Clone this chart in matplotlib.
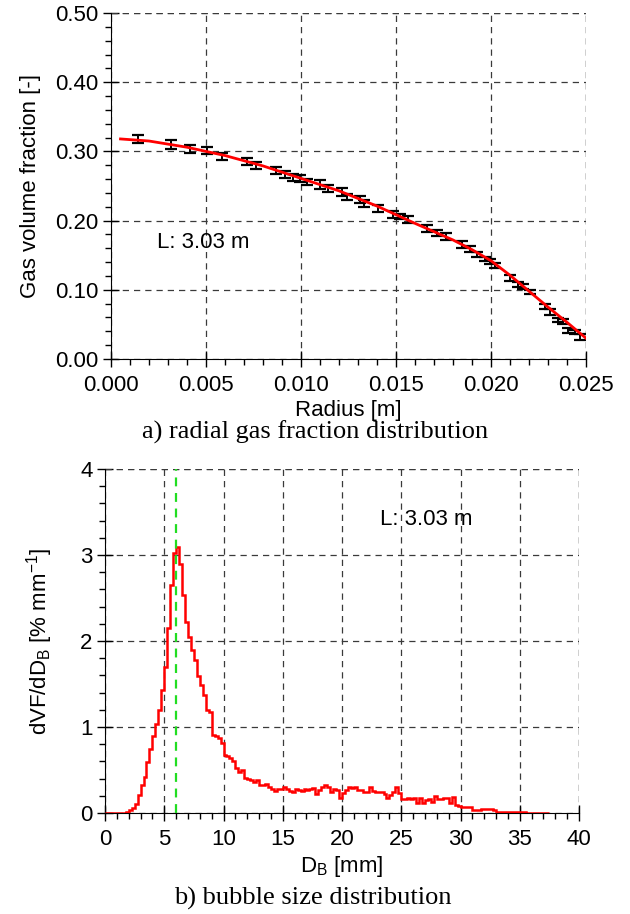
import numpy as np
import matplotlib
matplotlib.use("Agg")
import matplotlib.pyplot as plt
from matplotlib.ticker import MultipleLocator, FormatStrFormatter

plt.rcParams['font.family'] = ['Liberation Sans', 'DejaVu Sans']
plt.rcParams['mathtext.default'] = 'regular'

# radial gas fraction, measured points with error bars
radius = [0.0014, 0.00316, 0.00416, 0.00507, 0.00582, 0.00714, 0.00762, 0.00868,
          0.00916, 0.00956, 0.00995, 0.01033, 0.0110, 0.01144, 0.01214, 0.0124,
          0.0131, 0.01333, 0.01407, 0.01486, 0.01521, 0.01565, 0.01665, 0.01714,
          0.01763, 0.01846, 0.0189, 0.01925, 0.01968, 0.01995, 0.0202, 0.0210,
          0.02144, 0.0217, 0.02205, 0.02284, 0.0231, 0.02354, 0.0238, 0.02407,
          0.02442, 0.02468]
gas_frac = [0.318, 0.310, 0.303, 0.301, 0.293, 0.286, 0.280, 0.273,
            0.267, 0.262, 0.261, 0.256, 0.252, 0.247, 0.241, 0.234,
            0.231, 0.225, 0.218, 0.209, 0.206, 0.201, 0.189, 0.182,
            0.177, 0.166, 0.159, 0.151, 0.145, 0.141, 0.135, 0.117,
            0.108, 0.105, 0.097, 0.076, 0.068, 0.056, 0.054, 0.041,
            0.039, 0.032]
gas_err = [0.006, 0.006, 0.006, 0.005, 0.005, 0.005, 0.005, 0.005,
           0.005, 0.005, 0.005, 0.004, 0.006, 0.005, 0.006, 0.004,
           0.005, 0.005, 0.005, 0.005, 0.004, 0.005, 0.005, 0.004,
           0.005, 0.005, 0.004, 0.004, 0.003, 0.003, 0.004, 0.004,
           0.004, 0.004, 0.003, 0.004, 0.004, 0.003, 0.004, 0.004,
           0.003, 0.004]

# fitted profile
fit_r = [0.0005, 0.002, 0.004, 0.006, 0.008, 0.010, 0.012, 0.014, 0.016,
         0.018, 0.019, 0.020, 0.021, 0.022, 0.023, 0.024, 0.025]
fit_v = [0.318, 0.315, 0.306, 0.294, 0.279, 0.261, 0.243, 0.221, 0.196,
         0.172, 0.158, 0.142, 0.121, 0.098, 0.075, 0.053, 0.030]

# bubble size distribution, 0.25 mm classes from 0 to 37.5 mm
bin_width = 0.25
bsd = [0, 0, 0, 0, 0, 0, 0.003, 0.01,
       0.03, 0.06, 0.11, 0.21, 0.32, 0.42, 0.59, 0.74,
       0.90, 1.04, 1.20, 1.43, 1.70, 2.15, 2.65, 3.02,
       3.09, 2.90, 2.53, 2.22, 2.05, 1.90, 1.78, 1.59,
       1.49, 1.37, 1.20, 1.18, 0.91, 0.89, 0.87, 0.81,
       0.68, 0.66, 0.64, 0.60, 0.52, 0.48, 0.50, 0.41,
       0.40, 0.38, 0.36, 0.38, 0.33, 0.33, 0.34, 0.30,
       0.28, 0.26, 0.28, 0.28, 0.30, 0.28, 0.26, 0.24,
       0.28, 0.27, 0.26, 0.28, 0.27, 0.28, 0.29, 0.22,
       0.27, 0.30, 0.32, 0.30, 0.25, 0.28, 0.27, 0.18,
       0.23, 0.27, 0.30, 0.29, 0.30, 0.27, 0.27, 0.25,
       0.25, 0.30, 0.26, 0.25, 0.24, 0.24, 0.22, 0.18,
       0.21, 0.25, 0.30, 0.23, 0.16, 0.16, 0.17, 0.16,
       0.17, 0.12, 0.17, 0.12, 0.15, 0.16, 0.13, 0.20,
       0.16, 0.16, 0.17, 0.18, 0.12, 0.19, 0.09, 0.08,
       0.065, 0.065, 0.065, 0.07, 0.04, 0.04, 0.04, 0.05,
       0.05, 0.05, 0.05, 0.03, 0.015, 0.015, 0.015, 0.015,
       0.015, 0.015, 0.015, 0.015, 0.015, 0.015, 0.005, 0.005,
       0.005, 0.005, 0.005, 0.005, 0.005, 0.005]
d_peak = 6.0
label_L = 'L: 3.03 m'

grid_kw = dict(color='#3a3a3a', linestyle=(0, (5, 4)), linewidth=0.9)
fs = 16
serif = ['Liberation Serif', 'DejaVu Serif']


def style_axes(ax):
    ax.spines['top'].set_visible(False)
    ax.spines['right'].set_visible(False)
    ax.tick_params(which='major', direction='inout', length=11, width=1,
                   labelsize=fs)
    ax.tick_params(axis='x', which='major', pad=6)
    ax.tick_params(which='minor', direction='out', length=4, width=1)
    ax.grid(True, which='major', **grid_kw)
    ax.set_axisbelow(True)


fig = plt.figure(figsize=(6.3, 9.14), dpi=100)

# a) radial gas fraction
ax1 = fig.add_axes([0.1762, 0.6072, 0.754, 0.3786])
style_axes(ax1)
ax1.errorbar(radius, gas_frac, yerr=gas_err, fmt='none', ecolor='black',
             elinewidth=1.4, capsize=4.5, capthick=1.6, zorder=3)
ax1.plot(fit_r, fit_v, color='red', linewidth=2, zorder=4)
ax1.set_xlim(0, 0.025)
ax1.set_ylim(0, 0.5)
ax1.xaxis.set_major_locator(MultipleLocator(0.005))
ax1.xaxis.set_minor_locator(MultipleLocator(0.001))
ax1.yaxis.set_major_locator(MultipleLocator(0.1))
ax1.yaxis.set_minor_locator(MultipleLocator(0.02))
ax1.xaxis.set_major_formatter(FormatStrFormatter('%.3f'))
ax1.yaxis.set_major_formatter(FormatStrFormatter('%.2f'))
ax1.set_xlabel('Radius [m]', fontsize=fs, labelpad=3)
ax1.set_ylabel('Gas volume fraction [-]', fontsize=fs, labelpad=10)
ax1.text(0.0024, 0.168, label_L, fontsize=fs, va='center')
ax1.axhline(0.5, **grid_kw)
ax1.axvline(0.025, **grid_kw)

# b) bubble size distribution
ax2 = fig.add_axes([0.1667, 0.1105, 0.7524, 0.3764])
style_axes(ax2)
edges = np.arange(len(bsd) + 1) * bin_width
ax2.stairs(bsd, edges, color='red', linewidth=1.8, zorder=3)
ax2.axvline(d_peak, color='#22dd22', linestyle=(0, (4, 3)), linewidth=1.6,
            zorder=4)
ax2.set_xlim(0, 40)
ax2.set_ylim(0, 4)
ax2.xaxis.set_major_locator(MultipleLocator(5))
ax2.xaxis.set_minor_locator(MultipleLocator(1))
ax2.yaxis.set_major_locator(MultipleLocator(1))
ax2.yaxis.set_minor_locator(MultipleLocator(0.2))
ax2.set_xlabel('D$_B$ [mm]', fontsize=fs, labelpad=3)
ax2.set_ylabel('dVF/dD$_B$ [% mm$^{-1}$]', fontsize=fs, labelpad=18)
ax2.text(23.2, 3.41, label_L, fontsize=fs, va='center')
ax2.axhline(4, **grid_kw)
ax2.axvline(40, **grid_kw)

fig.text(0.5, 1 - 432 / 914, 'a) radial gas fraction distribution',
         family=serif, fontsize=19, ha='center', va='center')
fig.text(0.497, 1 - 898 / 914, 'b) bubble size distribution',
         family=serif, fontsize=19, ha='center', va='center')

fig.savefig('out.png', dpi=100)
